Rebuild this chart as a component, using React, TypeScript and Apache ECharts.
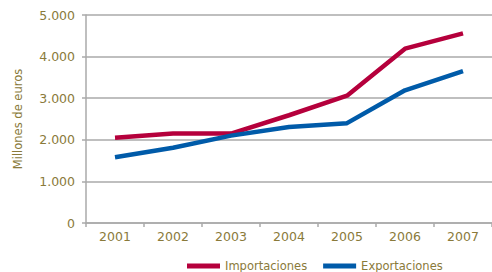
import React, { useEffect, useRef } from "react";
import * as echarts from "echarts";

const years = ["2001", "2002", "2003", "2004", "2005", "2006", "2007"];
const importaciones = [2050, 2150, 2150, 2590, 3060, 4190, 4560];
const exportaciones = [1580, 1810, 2100, 2310, 2400, 3190, 3650];
const textColor = "#8a7a3a";
const gridColor = "#aaaaaa";
const font = "DejaVu Sans";

export default function App() {
  const ref = useRef<HTMLDivElement>(null);
  useEffect(() => {
    const chart = echarts.init(ref.current!, null, { renderer: "svg" });
    chart.setOption({
      animation: false,
      backgroundColor: "#ffffff",
      grid: { left: 86, top: 15, bottom: 49, right: -5, containLabel: false },
      legend: {
        bottom: 0,
        left: 187,
        padding: 0,
        icon: "rect",
        itemWidth: 33,
        itemHeight: 5,
        itemGap: 16,
        textStyle: { color: textColor, fontFamily: font, fontSize: 11.5 },
        data: ["Importaciones", "Exportaciones"],
      },
      xAxis: {
        type: "category",
        data: years,
        boundaryGap: true,
        axisLine: { lineStyle: { color: gridColor, width: 1.5 } },
        axisTick: { show: true, length: 4, lineStyle: { color: gridColor, width: 1.5 } },
        axisLabel: { color: textColor, fontFamily: font, fontSize: 12.5, margin: 7 },
      },
      yAxis: {
        type: "value",
        min: 0,
        max: 5000,
        interval: 1000,
        name: "Millones de euros",
        nameLocation: "middle",
        nameRotate: 90,
        nameGap: 62,
        nameTextStyle: { color: textColor, fontFamily: font, fontSize: 11.5 },
        axisLine: { show: true, lineStyle: { color: gridColor, width: 1.5 } },
        axisTick: { show: true, length: 4, lineStyle: { color: gridColor, width: 1.5 } },
        splitLine: { show: true, lineStyle: { color: gridColor, width: 1.5 } },
        axisLabel: {
          color: textColor,
          fontFamily: font,
          fontSize: 12.5,
          margin: 11,
          formatter: (v: number) => (v === 0 ? "0" : v.toLocaleString("de-DE")),
        },
      },
      series: [
        {
          name: "Importaciones",
          type: "line",
          data: importaciones,
          showSymbol: false,
          symbol: "none",
          color: "#b5003c",
          lineStyle: { width: 4.5, color: "#b5003c" },
        },
        {
          name: "Exportaciones",
          type: "line",
          data: exportaciones,
          showSymbol: false,
          symbol: "none",
          color: "#005ba9",
          lineStyle: { width: 4.5, color: "#005ba9" },
        },
      ],
    });
    return () => chart.dispose();
  }, []);
  return <div ref={ref} style={{ width: 492, height: 272, position: "absolute", left: 0, top: 0 }} />;
}
